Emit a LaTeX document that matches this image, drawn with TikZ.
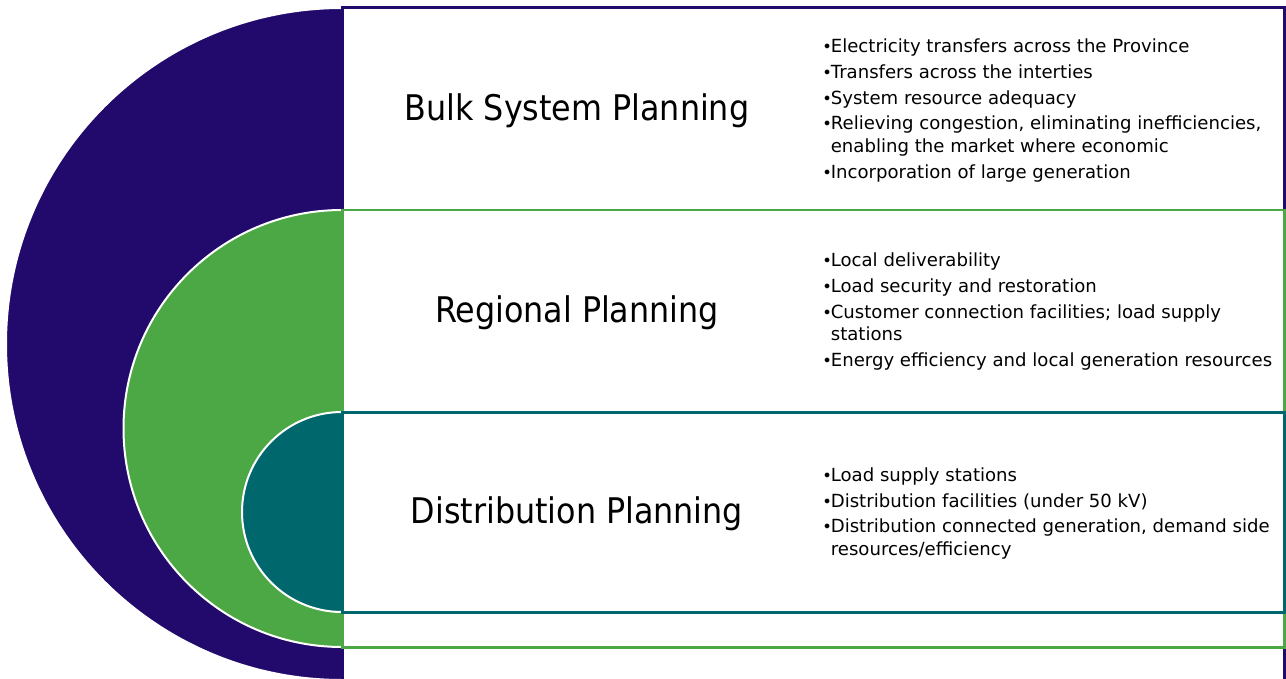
\documentclass[tikz,border=0pt]{standalone}
\usepackage{fontspec}
\setmainfont{DejaVu Sans Condensed}
\newfontfamily\listfont{DejaVu Sans}
\definecolor{navy}{RGB}{33,10,107}
\definecolor{leaf}{RGB}{76,168,68}
\definecolor{sea}{RGB}{0,104,108}
\newcommand{\bul}{\makebox[0.15cm][c]{\scalebox{0.9}{\textbullet}}}
\begin{document}
\begin{tikzpicture}[
        x=0.02cm,y=-0.02cm,
        band/.style={fill=white,line width=0.06cm},
        half/.style={draw=white,line width=0.04cm},
        title/.style={font=\fontsize{20.1}{23}\selectfont},
        items/.style={anchor=west,inner sep=0pt,font=\listfont\fontsize{10.3}{13}\selectfont},
        ]
        \useasboundingbox (0,0) rectangle (1286,679);
        \clip (0,0) rectangle (1286,679);
        % outer level
        \fill[navy,half] (342,8) arc[start angle=-90,end angle=-270,radius=336] -- cycle;
        \draw[band,draw=navy] (342,8) rectangle (1284,720);
        % middle level
        \fill[leaf,half] (342,210) arc[start angle=-90,end angle=-270,radius=218.5] -- cycle;
        \draw[band,draw=leaf] (342,210) rectangle (1284,647);
        % inner level
        \fill[sea,half] (342,412) arc[start angle=-90,end angle=-270,radius=100] -- cycle;
        \draw[band,draw=sea] (342,412) rectangle (1284,612);
        \node[title] (bulk) at (577,111) {Bulk System Planning};
        \node[title] (regional) at (577,313) {Regional Planning};
        \node[title] (distribution) at (577,514) {Distribution Planning};
        \node[items] (bulklist) at (823,111) {\begin{tabular}{@{}l@{}l@{}}
            \bul & Electricity transfers across the Province\\[1.7pt]
            \bul & Transfers across the interties\\[1.7pt]
            \bul & System resource adequacy\\[1.7pt]
            \bul & Relieving congestion, eliminating inefficiencies,\\
            & enabling the market where economic\\[1.7pt]
            \bul & Incorporation of large generation
            \end{tabular}};
        \node[items] (regionallist) at (823,312) {\begin{tabular}{@{}l@{}l@{}}
            \bul & Local deliverability\\[1.7pt]
            \bul & Load security and restoration\\[1.7pt]
            \bul & Customer connection facilities; load supply\\
            & stations\\[1.7pt]
            \bul & Energy efficiency and local generation resources
            \end{tabular}};
        \node[items] (distributionlist) at (823,514) {\begin{tabular}{@{}l@{}l@{}}
            \bul & Load supply stations\\[1.7pt]
            \bul & Distribution facilities (under 50 kV)\\[1.7pt]
            \bul & Distribution connected generation, demand side\\
            & resources/efficiency
            \end{tabular}};
\end{tikzpicture}
\end{document}
